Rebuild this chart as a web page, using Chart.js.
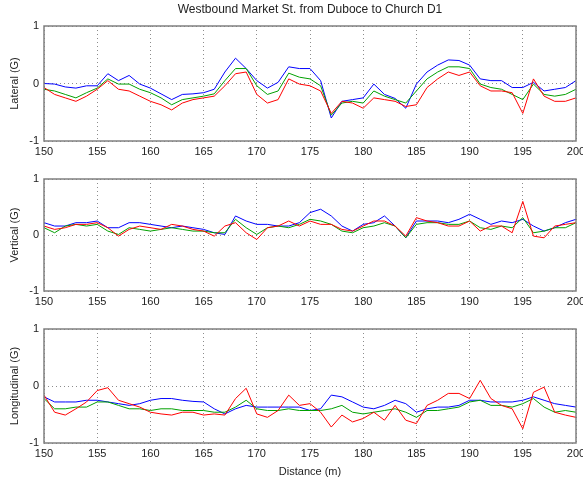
<!DOCTYPE html>
<html>
<head>
<meta charset="utf-8">
<script src="https://cdn.jsdelivr.net/npm/chart.js@4/dist/chart.umd.min.js"></script>
<style>
  html, body { margin: 0; padding: 0; background: #fff; }
  body { width: 583px; height: 479px; position: relative; overflow: hidden; }
  .box { position: absolute; left: 0; width: 583px; }
</style>
</head>
<body>
<div class="box" id="b1" style="top:0px;height:160px"><canvas id="c1"></canvas></div>
<div class="box" id="b2" style="top:160px;height:150px"><canvas id="c2"></canvas></div>
<div class="box" id="b3" style="top:310px;height:169px"><canvas id="c3"></canvas></div>
<script>
// ---- data ----
const distance = [150,151,152,153,154,155,156,157,158,159,160,161,162,163,164,165,166,167,168,169,170,171,172,173,174,175,176,177,178,179,180,181,182,183,184,185,186,187,188,189,190,191,192,193,194,195,196,197,198,199,200];
const xTicks = [150,155,160,165,170,175,180,185,190,195,200];
const yTicks = [-1,0,1];

const latBlue  = [0,-0.01,-0.06,-0.08,-0.04,-0.04,0.17,0.05,0.14,-0.01,-0.08,-0.18,-0.28,-0.19,-0.18,-0.16,-0.1,0.2,0.44,0.26,0.05,-0.08,0.02,0.29,0.26,0.26,0.05,-0.6,-0.31,-0.28,-0.25,-0.01,-0.19,-0.26,-0.43,-0.01,0.2,0.32,0.41,0.4,0.32,0.08,0.05,0.05,-0.07,-0.07,0.02,-0.13,-0.1,-0.07,0.05];
const latGreen = [-0.1,-0.13,-0.19,-0.25,-0.16,-0.08,0.08,-0.01,-0.01,-0.1,-0.16,-0.25,-0.37,-0.28,-0.25,-0.22,-0.18,0.05,0.26,0.26,-0.04,-0.19,-0.13,0.18,0.11,0.08,-0.04,-0.55,-0.34,-0.31,-0.34,-0.13,-0.22,-0.28,-0.34,-0.13,0.08,0.2,0.29,0.29,0.26,-0.01,-0.07,-0.1,-0.19,-0.28,-0.01,-0.19,-0.22,-0.19,-0.1];
const latRed   = [-0.07,-0.19,-0.25,-0.31,-0.22,-0.1,0.05,-0.1,-0.13,-0.22,-0.31,-0.37,-0.46,-0.34,-0.28,-0.25,-0.22,-0.04,0.17,0.2,-0.19,-0.34,-0.28,0.08,-0.01,-0.04,-0.13,-0.52,-0.31,-0.34,-0.43,-0.25,-0.28,-0.31,-0.4,-0.37,-0.07,0.08,0.2,0.14,0.2,-0.04,-0.13,-0.13,-0.16,-0.52,0.08,-0.22,-0.31,-0.31,-0.25];

const vertBlue  = [0.22,0.16,0.16,0.22,0.22,0.25,0.13,0.13,0.22,0.22,0.19,0.16,0.13,0.16,0.13,0.1,0.04,0.01,0.34,0.25,0.19,0.19,0.16,0.16,0.22,0.4,0.46,0.34,0.16,0.07,0.19,0.22,0.34,0.16,-0.05,0.25,0.25,0.25,0.22,0.28,0.37,0.28,0.19,0.25,0.22,0.28,0.16,0.07,0.13,0.22,0.28];
const vertGreen = [0.13,0.04,0.16,0.19,0.16,0.19,0.07,0.01,0.13,0.1,0.07,0.1,0.13,0.1,0.07,0.07,0.04,0.04,0.28,0.13,0.01,0.13,0.16,0.13,0.19,0.28,0.25,0.19,0.07,0.04,0.13,0.16,0.22,0.16,-0.05,0.19,0.22,0.22,0.19,0.19,0.25,0.13,0.1,0.16,0.13,0.31,0.04,0.07,0.13,0.13,0.22];
const vertRed   = [0.16,0.1,0.13,0.19,0.19,0.22,0.13,-0.02,0.1,0.16,0.13,0.1,0.19,0.16,0.1,0.07,-0.02,0.16,0.22,0.04,-0.08,0.13,0.16,0.25,0.16,0.25,0.19,0.19,0.1,0.07,0.16,0.25,0.25,0.16,-0.02,0.31,0.25,0.22,0.16,0.16,0.25,0.07,0.16,0.16,0.04,0.6,-0.02,-0.05,0.16,0.19,0.22];

const longBlue  = [-0.19,-0.28,-0.28,-0.28,-0.25,-0.25,-0.28,-0.31,-0.34,-0.31,-0.25,-0.22,-0.22,-0.25,-0.27,-0.28,-0.4,-0.49,-0.4,-0.34,-0.37,-0.37,-0.37,-0.37,-0.37,-0.43,-0.4,-0.16,-0.19,-0.28,-0.37,-0.4,-0.34,-0.25,-0.31,-0.46,-0.4,-0.37,-0.37,-0.34,-0.25,-0.25,-0.28,-0.28,-0.28,-0.25,-0.19,-0.25,-0.31,-0.34,-0.37];
const longGreen = [-0.22,-0.4,-0.4,-0.37,-0.37,-0.28,-0.28,-0.34,-0.4,-0.4,-0.43,-0.4,-0.4,-0.43,-0.43,-0.43,-0.46,-0.46,-0.37,-0.25,-0.4,-0.43,-0.43,-0.4,-0.43,-0.43,-0.43,-0.4,-0.34,-0.46,-0.49,-0.46,-0.43,-0.4,-0.46,-0.55,-0.43,-0.43,-0.4,-0.37,-0.28,-0.25,-0.34,-0.34,-0.37,-0.31,-0.22,-0.37,-0.46,-0.43,-0.46];
const longRed   = [-0.16,-0.46,-0.51,-0.4,-0.28,-0.08,-0.03,-0.25,-0.31,-0.37,-0.46,-0.49,-0.51,-0.46,-0.46,-0.51,-0.49,-0.51,-0.22,-0.04,-0.49,-0.55,-0.43,-0.16,-0.34,-0.31,-0.46,-0.72,-0.51,-0.63,-0.57,-0.46,-0.6,-0.34,-0.6,-0.66,-0.34,-0.25,-0.13,-0.13,-0.22,0.1,-0.22,-0.34,-0.4,-0.75,-0.11,-0.02,-0.46,-0.51,-0.55];

const FONT = "'Liberation Sans', Arial, sans-serif";
const TXT = '#222';

function pts(ys) { return distance.map((d, i) => ({ x: d, y: ys[i] })); }

const framePlugin = {
  id: 'frame',
  afterDraw(chart) {
    const a = chart.chartArea, ctx = chart.ctx;
    ctx.save();
    ctx.strokeStyle = '#808080';
    ctx.lineWidth = 1.5;
    ctx.strokeRect(a.left, a.top, a.right - a.left, a.bottom - a.top);
    ctx.restore();
  }
};

function makeChart(id, blue, green, red, yTitle, opts) {
  return new Chart(document.getElementById(id), {
    type: 'line',
    data: {
      datasets: [
        { data: pts(red),   borderColor: '#ff0000', borderWidth: 1, pointRadius: 0, tension: 0 },
        { data: pts(green), borderColor: '#00a000', borderWidth: 1, pointRadius: 0, tension: 0 },
        { data: pts(blue),  borderColor: '#0000ff', borderWidth: 1, pointRadius: 0, tension: 0 }
      ]
    },
    options: {
      responsive: true,
      maintainAspectRatio: false,
      animation: false,
      events: [],
      layout: { padding: { top: opts.padTop, right: 7, left: 0, bottom: 0 } },
      plugins: {
        legend: { display: false },
        tooltip: { enabled: false },
        title: opts.title ? {
          display: true, text: opts.title, color: TXT, fullSize: false,
          font: { family: FONT, size: 12, weight: 'normal' },
          padding: { top: 2, bottom: 9.6 }
        } : { display: false }
      },
      scales: {
        x: {
          type: 'linear', min: 150, max: 200,
          afterBuildTicks: s => { s.ticks = xTicks.map(v => ({ value: v })); },
          ticks: { color: TXT, font: { family: FONT, size: 11 }, padding: 4, maxRotation: 0, autoSkip: false },
          grid: { color: 'rgba(0,0,0,0.45)', lineWidth: 1, drawTicks: false },
          border: { display: false, dash: [1, 3] },
          title: opts.xTitle ? { display: true, text: opts.xTitle, color: TXT, font: { family: FONT, size: 11 }, padding: { top: 0, bottom: 0 } } : { display: false },
          afterFit: s => { s.height = opts.xH; s.paddingLeft = 0; s.paddingRight = 0; }
        },
        y: {
          type: 'linear', min: -1, max: 1,
          afterBuildTicks: s => { s.ticks = yTicks.map(v => ({ value: v })); },
          ticks: { color: TXT, font: { family: FONT, size: 11 }, padding: 5 },
          grid: { color: 'rgba(0,0,0,0.45)', lineWidth: 1, drawTicks: false },
          border: { display: false, dash: [1, 3] },
          title: { display: true, text: yTitle, color: TXT, font: { family: FONT, size: 11 }, padding: { top: 8, bottom: 0 } },
          afterFit: s => { s.width = 44; s.paddingTop = 0; s.paddingBottom = 0; }
        }
      }
    },
    plugins: [framePlugin]
  });
}

makeChart('c1', latBlue, latGreen, latRed, 'Lateral (G)', { padTop: 0, xH: 19, title: 'Westbound Market St. from Duboce to Church D1' });
makeChart('c2', vertBlue, vertGreen, vertRed, 'Vertical (G)', { padTop: 19, xH: 19 });
makeChart('c3', longBlue, longGreen, longRed, 'Longitudinal (G)', { padTop: 19, xH: 36, xTitle: 'Distance (m)' });
</script>
</body>
</html>
